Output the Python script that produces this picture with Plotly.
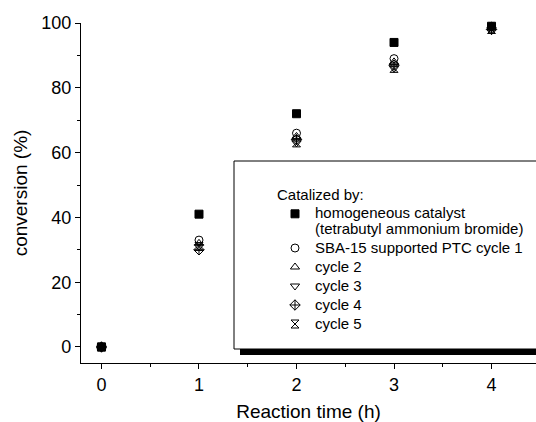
import plotly.graph_objects as go

time_h = [0, 1, 2, 3, 4]
homogeneous = [0, 41, 72, 94, 99]
cycle1 = [0, 33, 66, 89, 99]
cycle2 = [0, 32, 65, 88, 99]
cycle3 = [0, 31, 63, 86, 98]
cycle4 = [0, 30, 64, 87, 98]
cycle5 = [0, 31, 63, 86, 98]

legend_title = "Catalized by:"
series_lines = [
    ["homogeneous catalyst", "(tetrabutyl ammonium bromide)"],
    ["SBA-15 supported PTC cycle 1"],
    ["cycle 2"],
    ["cycle 3"],
    ["cycle 4"],
    ["cycle 5"],
]
series_values = [homogeneous, cycle1, cycle2, cycle3, cycle4, cycle5]
symbols = ["square", "circle-open", "triangle-up-open", "triangle-down-open",
           "diamond-cross-open", "hourglass-open"]

FONT = "Liberation Sans, Arial, sans-serif"
LEG_PX = 15

def leg_label(lines):
    return "<br>".join(
        f"<span style='font-size:{LEG_PX}px'>{ln}</span>" for ln in lines)

fig = go.Figure()
for lines, vals, sym in zip(series_lines, series_values, symbols):
    fig.add_trace(go.Scatter(
        x=time_h, y=vals, mode="markers", name=leg_label(lines),
        cliponaxis=False,
        marker=dict(symbol=sym, size=8, color="black",
                    line=dict(color="black", width=1)),
    ))

# plot area in pixels: left 81, right 536, top 23, bottom 363
W, H = 536, 422
L, R, T, B = 81, 0, 23, 59
pw = W - L - R
ph = H - T - B

def px_x(p):
    return (p - L) / pw

def px_y(p):
    return (H - B - p) / ph

shapes = [
    dict(type="rect", xref="paper", yref="paper", layer="above",
         x0=px_x(240), x1=1.2, y0=px_y(355), y1=px_y(167),
         fillcolor="black", line=dict(width=0)),
    dict(type="rect", xref="paper", yref="paper", layer="above",
         x0=px_x(234), x1=1.2, y0=px_y(349), y1=px_y(161),
         fillcolor="white", line=dict(color="black", width=1)),
]

fig.update_layout(
    width=W, height=H,
    margin=dict(l=L, r=R, t=T, b=B, pad=0),
    paper_bgcolor="white", plot_bgcolor="white",
    font=dict(family=FONT, color="black", size=18),
    showlegend=True,
    shapes=shapes,
    legend=dict(
        title=dict(text=legend_title, font=dict(size=LEG_PX, family=FONT)),
        font=dict(size=12, family=FONT),
        x=px_x(275), y=px_y(180), xanchor="left", yanchor="top",
        bgcolor="rgba(0,0,0,0)", borderwidth=0, valign="top",
        itemclick=False,
    ),
    xaxis=dict(
        range=[-0.21, 4.456], showgrid=False, zeroline=False,
        showline=True, linecolor="black", linewidth=1.3,
        ticks="outside", ticklen=5, tickwidth=1.3, tickcolor="black",
        tickmode="linear", tick0=0, dtick=1,
        minor=dict(ticks="outside", ticklen=3, tickwidth=1.3,
                   tickcolor="black", dtick=0.5, tick0=0),
        tickfont=dict(size=18),
        title=dict(text="Reaction time (h)", font=dict(size=19), standoff=12),
    ),
    yaxis=dict(
        range=[-4.94, 100], showgrid=False, zeroline=False,
        showline=True, linecolor="black", linewidth=1.3,
        ticks="outside", ticklen=5, tickwidth=1.3, tickcolor="black",
        tickmode="linear", tick0=0, dtick=20,
        minor=dict(ticks="outside", ticklen=3, tickwidth=1.3,
                   tickcolor="black", dtick=10, tick0=0),
        tickfont=dict(size=18),
        title=dict(text="conversion (%)", font=dict(size=19), standoff=8),
    ),
)

fig.write_html("out.html")
